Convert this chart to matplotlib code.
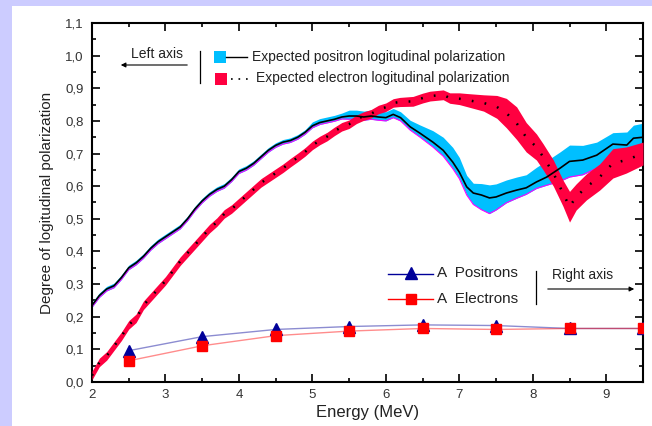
import numpy as np
import matplotlib
matplotlib.use("Agg")
import matplotlib.pyplot as plt
from matplotlib.patches import Rectangle
from matplotlib.lines import Line2D
from matplotlib.ticker import MultipleLocator, FixedLocator, FixedFormatter

plt.rcParams['font.family'] = ['Liberation Sans', 'DejaVu Sans']

# ---------------- data ----------------
pos_E = [2.0, 2.1, 2.2, 2.3, 2.4, 2.5, 2.6, 2.7, 2.8, 2.9, 3.0, 3.1, 3.2, 3.3, 3.4,
         3.5, 3.6, 3.7, 3.8, 3.9, 4.0, 4.1, 4.2, 4.3, 4.4, 4.5, 4.6, 4.7, 4.8, 4.9,
         5.0, 5.1, 5.2, 5.3, 5.4, 5.5, 5.6, 5.7, 5.8, 5.9, 6.0, 6.1, 6.2,
         6.33, 6.46, 6.64, 6.78, 6.91, 7.0, 7.1, 7.19, 7.3, 7.41, 7.5, 7.64, 7.78,
         7.91, 8.05, 8.19, 8.37, 8.5, 8.68, 8.87, 9.09, 9.28, 9.37, 9.5]
pos_c = [0.235, 0.265, 0.285, 0.295, 0.32, 0.35, 0.365, 0.385, 0.41, 0.43, 0.445, 0.46,
         0.475, 0.50, 0.53, 0.555, 0.575, 0.59, 0.60, 0.62, 0.645, 0.655, 0.67, 0.69,
         0.71, 0.725, 0.735, 0.74, 0.75, 0.765, 0.785, 0.795, 0.80, 0.805, 0.812, 0.815,
         0.815, 0.812, 0.815, 0.812, 0.81, 0.82, 0.81,
         0.782, 0.763, 0.735, 0.71, 0.674, 0.643, 0.598, 0.579, 0.573, 0.564, 0.567,
         0.579, 0.588, 0.595, 0.613, 0.628, 0.655, 0.676, 0.68, 0.695, 0.729, 0.726,
         0.747, 0.75]
pos_up = [0.008, 0.008, 0.008, 0.008, 0.008, 0.008, 0.008, 0.008, 0.008, 0.008, 0.008,
          0.008, 0.008, 0.008, 0.008, 0.008, 0.008, 0.008, 0.008, 0.008, 0.008, 0.008,
          0.008, 0.008, 0.008, 0.008, 0.008, 0.008, 0.008, 0.008, 0.012, 0.012, 0.012,
          0.012, 0.012, 0.018, 0.018, 0.018, 0.018, 0.018, 0.018, 0.018, 0.018,
          0.02, 0.025, 0.035, 0.04, 0.045, 0.045, 0.035, 0.03, 0.035, 0.04, 0.04, 0.04,
          0.04, 0.04, 0.045, 0.05, 0.05, 0.05, 0.045, 0.04, 0.035, 0.04, 0.04, 0.043]
pos_lo = [0.006, 0.006, 0.006, 0.006, 0.006, 0.006, 0.006, 0.006, 0.006, 0.006, 0.006,
          0.006, 0.006, 0.006, 0.006, 0.006, 0.006, 0.006, 0.006, 0.006, 0.006, 0.006,
          0.006, 0.006, 0.006, 0.006, 0.006, 0.006, 0.006, 0.006, 0.006, 0.006, 0.006,
          0.006, 0.006, 0.01, 0.01, 0.01, 0.01, 0.01, 0.01, 0.01, 0.01,
          0.01, 0.012, 0.015, 0.018, 0.02, 0.02, 0.025, 0.035, 0.045, 0.048, 0.04, 0.03,
          0.025, 0.02, 0.02, 0.025, 0.04, 0.048, 0.045, 0.04, 0.03, 0.025, 0.025, 0.025]

ele_E = [2.0, 2.1, 2.2, 2.3, 2.4, 2.5, 2.6, 2.7, 2.8, 2.9, 3.0, 3.1, 3.2, 3.3, 3.4,
         3.5, 3.6, 3.7, 3.8, 3.9, 4.0, 4.1, 4.2, 4.3, 4.4, 4.5, 4.6, 4.7, 4.8, 4.9,
         5.0, 5.1, 5.2, 5.3, 5.4, 5.5, 5.6, 5.7, 5.8, 5.9, 6.0, 6.1,
         6.19, 6.37, 6.5, 6.6, 6.78, 6.87, 7.0, 7.1, 7.33, 7.51, 7.64, 7.78, 7.91,
         8.05, 8.14, 8.28, 8.41, 8.5, 8.59, 8.73, 8.91, 9.09, 9.27, 9.5]
ele_c = [0.02, 0.06, 0.08, 0.11, 0.14, 0.175, 0.195, 0.235, 0.26, 0.285, 0.31, 0.34,
         0.37, 0.395, 0.42, 0.445, 0.47, 0.49, 0.515, 0.53, 0.55, 0.57, 0.59, 0.61,
         0.625, 0.64, 0.655, 0.672, 0.688, 0.705, 0.725, 0.74, 0.752, 0.768, 0.782, 0.79,
         0.805, 0.815, 0.822, 0.835, 0.842, 0.855,
         0.858, 0.86, 0.87, 0.876, 0.88, 0.87, 0.868, 0.864, 0.855, 0.843, 0.824,
         0.793, 0.75, 0.72, 0.69, 0.64, 0.579, 0.537, 0.567, 0.598, 0.628, 0.67, 0.68,
         0.70]
ele_hw = [0.013, 0.013, 0.013, 0.013, 0.013, 0.013, 0.013, 0.013, 0.013, 0.013, 0.013,
          0.013, 0.013, 0.013, 0.013, 0.013, 0.013, 0.013, 0.013, 0.013, 0.013, 0.013,
          0.013, 0.013, 0.013, 0.013, 0.013, 0.013, 0.013, 0.013, 0.013, 0.013, 0.013,
          0.013, 0.013, 0.013, 0.013, 0.013, 0.013, 0.013, 0.013, 0.013,
          0.014, 0.015, 0.015, 0.015, 0.015, 0.016, 0.018, 0.02, 0.025, 0.035, 0.045,
          0.05, 0.045, 0.04, 0.04, 0.04, 0.04, 0.047, 0.04, 0.04, 0.04, 0.045, 0.04,
          0.035]

A_E = [2.5, 3.5, 4.5, 5.5, 6.5, 7.5, 8.5, 9.5]
A_pos = [0.096, 0.139, 0.161, 0.170, 0.175, 0.173, 0.164, 0.164]
A_ele = [0.065, 0.111, 0.142, 0.156, 0.164, 0.161, 0.164, 0.164]

x_ticks = [2, 3, 4, 5, 6, 7, 8, 9]
y_ticks = [0.0, 0.1, 0.2, 0.3, 0.4, 0.5, 0.6, 0.7, 0.8, 0.9, 1.0, 1.1]
y_labels = ["0,0", "0,1", "0,2", "0,3", "0,4", "0,5", "0,6", "0,7", "0,8", "0,9", "1,0", "1,1"]

# ---------------- figure ----------------
W, H = 652, 426
fig = plt.figure(figsize=(W / 100, H / 100), dpi=100)
fig.patch.set_facecolor('#CCCCFF')
fig.add_artist(Rectangle((12 / W, 0), 1, 1 - 6 / H, transform=fig.transFigure,
                         facecolor='white', edgecolor='none', zorder=0))


def fx(px):
    return px / W


def fy(py):
    return 1 - py / H


ax = fig.add_axes([92 / W, 44 / H, 551 / W, 359 / H])
ax.set_facecolor('white')

pE = np.array(pos_E); pc = np.array(pos_c)
eE = np.array(ele_E); ec = np.array(ele_c)

CYAN = '#00BFFF'
RED = '#FF0040'

ax.fill_between(pE, pc - np.array(pos_lo), pc + np.array(pos_up), color=CYAN, lw=0, zorder=2)
ax.plot(pE, pc - np.array(pos_lo), color='#FF00FF', lw=0.8, zorder=2.5)
ax.fill_between(eE, ec - np.array(ele_hw), ec + np.array(ele_hw), color=RED, lw=0, zorder=3)
ax.plot(pE, pc, color='black', lw=1.2, zorder=4)
ax.plot(eE, ec, color='black', lw=1.8, ls=(0, (0.7, 4.5)), zorder=4)

ax.plot(A_E, A_pos, color='#000099', lw=1.0, alpha=0.45, zorder=5)
ax.plot(A_E, A_ele, color='#FF0000', lw=1.0, alpha=0.45, zorder=5)
ax.plot(A_E, A_pos, ls='none', marker='^', ms=8, color='#000099', zorder=6)
ax.plot(A_E, A_ele, ls='none', marker='s', ms=7, color='#FF0000', zorder=7)

ax.set_xlim(2, 9.5)
ax.set_ylim(0, 1.1)
ax.xaxis.set_major_locator(FixedLocator(x_ticks))
ax.xaxis.set_minor_locator(MultipleLocator(0.5))
ax.yaxis.set_major_locator(FixedLocator(y_ticks))
ax.yaxis.set_major_formatter(FixedFormatter(y_labels))
ax.yaxis.set_minor_locator(MultipleLocator(0.05))
ax.tick_params(which='both', direction='in', top=True, right=True, width=1.2,
               labelsize=9.5, labelcolor='#333333')
ax.tick_params(which='major', length=5.5)
ax.tick_params(which='minor', length=3)
ax.tick_params(axis='y', pad=6)
ax.tick_params(axis='x', pad=5)
for s in ax.spines.values():
    s.set_linewidth(1.5)

ax.set_xlabel('Energy (MeV)', fontsize=12, color='#222222', labelpad=3)
ax.set_ylabel('Degree of logitudinal polarization', fontsize=11, color='#222222', labelpad=8)

# ---------------- manual legends ----------------
fig.text(fx(131), fy(54), 'Left axis', fontsize=10, color='#222222', va='center', ha='left')
ax.annotate('', xy=(fx(118), fy(65)), xytext=(fx(190), fy(65)), xycoords='figure fraction',
            textcoords='figure fraction', annotation_clip=False,
            arrowprops=dict(arrowstyle='-|>', color='black', lw=0.8, mutation_scale=7))
fig.add_artist(Line2D([fx(200), fx(200)], [fy(51), fy(83)], color='black', lw=0.9))

fig.add_artist(Rectangle((fx(214), fy(63)), 12 / W, 12 / H, transform=fig.transFigure,
                         facecolor=CYAN, edgecolor='none'))
fig.add_artist(Line2D([fx(226), fx(247)], [fy(57), fy(57)], color='black', lw=1.0))
fig.text(fx(252), fy(57), 'Expected positron logitudinal polarization', fontsize=10,
         color='#222222', va='center', ha='left')

fig.add_artist(Rectangle((fx(215), fy(85)), 12 / W, 12 / H, transform=fig.transFigure,
                         facecolor=RED, edgecolor='none'))
fig.add_artist(Line2D([fx(231), fx(251)], [fy(79), fy(79)], color='black', lw=1.2,
                      ls=(0, (1, 3.5))))
fig.text(fx(256), fy(78), 'Expected electron logitudinal polarization', fontsize=10,
         color='#222222', va='center', ha='left')

fig.add_artist(Line2D([fx(388), fx(433)], [fy(274), fy(274)], color='#000099', lw=1.0))
fig.add_artist(Line2D([fx(411)], [fy(273)], marker='^', ms=8, color='#000099', ls='none'))
fig.text(fx(437), fy(273), 'A  Positrons', fontsize=11, color='#222222', va='center', ha='left')
fig.add_artist(Line2D([fx(388), fx(433)], [fy(299), fy(299)], color='#FF0000', lw=1.0))
fig.add_artist(Line2D([fx(411)], [fy(299)], marker='s', ms=7, color='#FF0000', ls='none'))
fig.text(fx(437), fy(299), 'A  Electrons', fontsize=11, color='#222222', va='center', ha='left')

fig.add_artist(Line2D([fx(536), fx(536)], [fy(271), fy(304)], color='black', lw=0.9))
fig.text(fx(552), fy(275), 'Right axis', fontsize=10, color='#222222', va='center', ha='left')
ax.annotate('', xy=(fx(637), fy(289)), xytext=(fx(545), fy(289)), xycoords='figure fraction',
            textcoords='figure fraction', annotation_clip=False,
            arrowprops=dict(arrowstyle='-|>', color='black', lw=0.8, mutation_scale=7))

fig.savefig('out.png', dpi=100, facecolor=fig.get_facecolor())
